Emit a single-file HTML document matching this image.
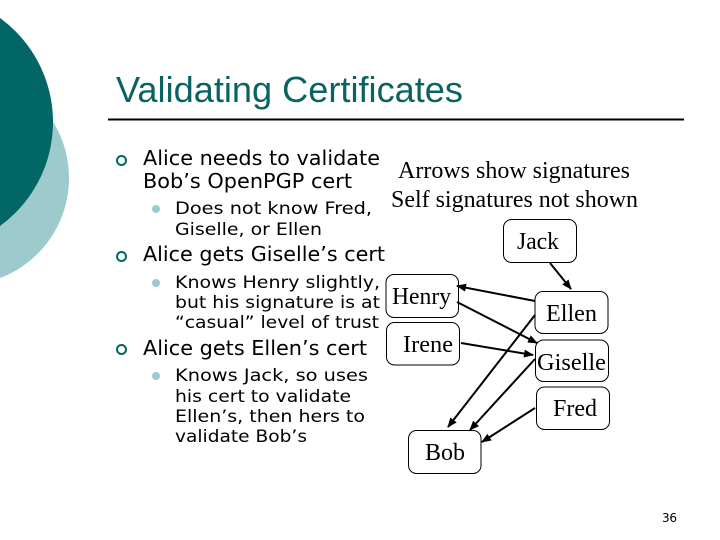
<!DOCTYPE html>
<html><head><meta charset="utf-8"><style>
html,body{margin:0;padding:0;background:#fff;width:720px;height:540px;overflow:hidden}
svg{display:block}
.a{font-family:"DejaVu Sans","Liberation Sans",sans-serif;fill:#000}
.l1{font-size:20px}
.l2{font-size:17px}
.s{font-family:"Liberation Serif",serif;font-size:24px;fill:#000}
.b{fill:#fff;stroke:#000;stroke-width:1}
.c{stroke:#000;stroke-width:2;fill:none;marker-end:url(#m)}
</style></head><body>
<svg width="720" height="540" viewBox="0 0 720 540" xmlns="http://www.w3.org/2000/svg">
<defs><marker id="m" markerUnits="userSpaceOnUse" markerWidth="10" markerHeight="8" refX="9" refY="4" orient="auto"><path d="M0 0L10 4L0 8Z" fill="#000"/></marker></defs>
<circle cx="-38" cy="178" r="107" fill="#9dcbcd"/>
<circle cx="-75.500" cy="122" r="128.500" fill="#026666"/>
<text x="116" y="102" font-family="Liberation Sans,sans-serif" font-size="36" fill="#0b6262" textLength="347" lengthAdjust="spacingAndGlyphs">Validating Certificates</text>
<rect x="108" y="118.500" width="576" height="2" fill="#000"/>

<circle cx="121.500" cy="160.500" r="4.500" fill="none" stroke="#026666" stroke-width="2"/>
<circle cx="121.500" cy="256.500" r="4.500" fill="none" stroke="#026666" stroke-width="2"/>
<circle cx="121.500" cy="349.500" r="4.500" fill="none" stroke="#026666" stroke-width="2"/>
<circle cx="156" cy="209" r="4" fill="#9dcbcd"/>
<circle cx="156" cy="283" r="4" fill="#9dcbcd"/>
<circle cx="156" cy="376" r="4" fill="#9dcbcd"/>

<text class="a l1" x="143" y="165" textLength="237" lengthAdjust="spacingAndGlyphs">Alice needs to validate</text>
<text class="a l1" x="143" y="188" textLength="209" lengthAdjust="spacingAndGlyphs">Bob’s OpenPGP cert</text>
<text class="a l2" x="175" y="214" textLength="197" lengthAdjust="spacingAndGlyphs">Does not know Fred,</text>
<text class="a l2" x="175" y="235" textLength="147" lengthAdjust="spacingAndGlyphs">Giselle, or Ellen</text>
<text class="a l1" x="143" y="261" textLength="242" lengthAdjust="spacingAndGlyphs">Alice gets Giselle’s cert</text>
<text class="a l2" x="175" y="288" textLength="205" lengthAdjust="spacingAndGlyphs">Knows Henry slightly,</text>
<text class="a l2" x="175" y="308" textLength="205" lengthAdjust="spacingAndGlyphs">but his signature is at</text>
<text class="a l2" x="175" y="328" textLength="204" lengthAdjust="spacingAndGlyphs">“casual” level of trust</text>
<text class="a l1" x="143" y="355" textLength="224" lengthAdjust="spacingAndGlyphs">Alice gets Ellen’s cert</text>
<text class="a l2" x="175" y="381" textLength="193" lengthAdjust="spacingAndGlyphs">Knows Jack, so uses</text>
<text class="a l2" x="175" y="402" textLength="176" lengthAdjust="spacingAndGlyphs">his cert to validate</text>
<text class="a l2" x="175" y="422" textLength="190" lengthAdjust="spacingAndGlyphs">Ellen’s, then hers to</text>
<text class="a l2" x="175" y="442" textLength="132" lengthAdjust="spacingAndGlyphs">validate Bob’s</text>

<text class="s" x="398" y="178" textLength="232" lengthAdjust="spacingAndGlyphs">Arrows show signatures</text>
<text class="s" x="391" y="207" textLength="247" lengthAdjust="spacingAndGlyphs">Self signatures not shown</text>

<rect class="b" x="503.500" y="219.500" width="73" height="43" rx="8"/>
<rect class="b" x="386" y="274.500" width="72.500" height="43" rx="8"/>
<rect class="b" x="386.500" y="322.500" width="73" height="42.500" rx="8"/>
<rect class="b" x="535" y="291.500" width="73" height="42" rx="8"/>
<rect class="b" x="535.500" y="340" width="73" height="41.500" rx="8"/>
<rect class="b" x="536.500" y="387" width="73" height="42.500" rx="8"/>
<rect class="b" x="408.500" y="430.500" width="72.500" height="43" rx="8"/>

<text class="s" x="517" y="249" textLength="42" lengthAdjust="spacingAndGlyphs">Jack</text>
<text class="s" x="392" y="304" textLength="59" lengthAdjust="spacingAndGlyphs">Henry</text>
<text class="s" x="403" y="352" textLength="50" lengthAdjust="spacingAndGlyphs">Irene</text>
<text class="s" x="546" y="321" textLength="51" lengthAdjust="spacingAndGlyphs">Ellen</text>
<text class="s" x="537" y="370" textLength="69" lengthAdjust="spacingAndGlyphs">Giselle</text>
<text class="s" x="553" y="416" textLength="44" lengthAdjust="spacingAndGlyphs">Fred</text>
<text class="s" x="425" y="460" textLength="40" lengthAdjust="spacingAndGlyphs">Bob</text>

<line class="c" x1="550" y1="263" x2="571" y2="289"/>
<line class="c" x1="535" y1="301" x2="457" y2="286"/>
<line class="c" x1="457" y1="302" x2="537" y2="343"/>
<line class="c" x1="461" y1="343" x2="533" y2="355"/>
<line class="c" x1="535" y1="315" x2="448" y2="427"/>
<line class="c" x1="535" y1="359" x2="470" y2="430"/>
<line class="c" x1="535" y1="408" x2="482" y2="442"/>

<text x="662" y="522" font-family="DejaVu Sans,sans-serif" font-size="12" fill="#000" textLength="15">36</text>
</svg>
</body></html>
